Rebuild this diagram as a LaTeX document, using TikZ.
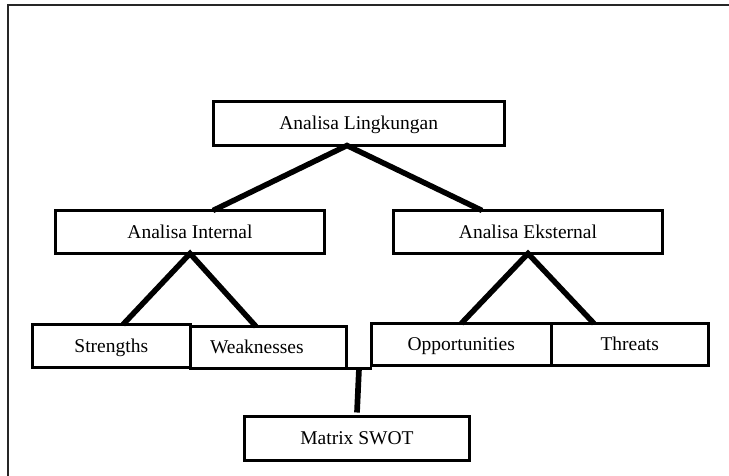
\documentclass[tikz,border=0pt]{standalone}
\usepackage{fontspec}
\setmainfont{Liberation Serif}
\usetikzlibrary{positioning,calc}

\begin{document}
\begin{tikzpicture}[x=1pt, y=-1pt,
    boxnode/.style={draw, line width=3pt, inner sep=0pt, outer sep=0pt,
      minimum height=43pt, text height=12.9pt, text depth=0pt,
      font=\fontsize{19.5}{23}\selectfont},
    link/.style={line width=5.5pt}]
  \useasboundingbox (0,0) rectangle (729,475);
  \draw[line width=2pt, black!85] (8.3,476) -- (8.3,5) -- (730,5);
  \node[boxnode, minimum width=291.5pt, minimum height=44pt] (lingk) at (358.75,123.5) {Analisa Lingkungan};
  \node[boxnode, minimum width=269pt] (intern) at (190,232) {Analisa Internal};
  \node[boxnode, minimum width=269pt] (ekstern) at (528,232) {Analisa Eksternal};
  \node[boxnode, minimum width=157.5pt] (str) at (111.25,346) {Strengths};
  \node[boxnode, minimum width=156.5pt, minimum height=42pt, text width=116.5pt, align=left] (weak) at (268.25,347.5) {Weaknesses};
  \node[boxnode, minimum width=179.5pt, minimum height=42pt] (opp) at (461.25,344.5) {Opportunities};
  \node[boxnode, minimum width=157.5pt, minimum height=42pt] (thr) at (629.75,344.5) {Threats};
  \node[boxnode, minimum width=225pt, minimum height=44pt] (swot) at (357,438.5) {Matrix SWOT};
  \draw[link] ([xshift=23pt]intern.north) -- ([xshift=-11.75pt]lingk.south) -- ([xshift=-46pt]ekstern.north);
  \draw[link] ([xshift=11.75pt]str.north) -- (intern.south) -- ([xshift=-12.25pt]weak.north);
  \draw[link] (opp.north) -- (ekstern.south) -- ([xshift=-35.75pt]thr.north);
  \draw[line width=3pt] (weak.south east) -- (opp.west |- weak.south);
  \coordinate (tee) at ($(weak.south east)!0.5!(opp.west |- weak.south)$);
  \draw[line width=5.7pt] (tee) -- ([yshift=4pt]swot.north);
\end{tikzpicture}
\end{document}
